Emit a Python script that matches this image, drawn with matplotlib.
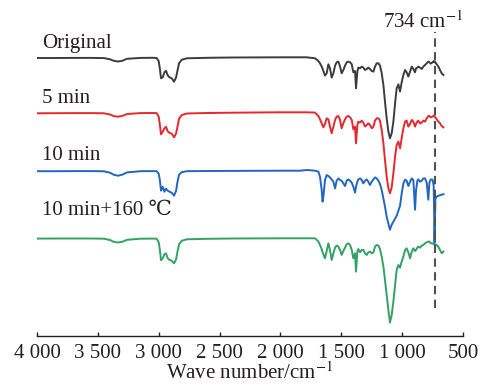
import matplotlib
matplotlib.use("Agg")
import matplotlib.pyplot as plt

# ---- data: FTIR spectra ---------------------------------------------------
# shared wavenumber grid (cm-1), high to low
wavenumber = [
    4000, 3850, 3700, 3550, 3450, 3400, 3370, 3335, 3300, 3260, 3150, 3050,
    3017, 3000, 2990, 2981, 2967, 2953, 2940, 2926, 2912, 2893, 2874, 2857,
    2847, 2833, 2811, 2770, 2600, 2400, 2200, 2000, 1900,
    1839, 1784, 1716, 1688, 1675, 1661, 1654, 1647, 1634, 1620, 1606, 1593,
    1579, 1565, 1551, 1538, 1524, 1510, 1497, 1483, 1469, 1456, 1442, 1428,
    1414, 1401, 1387, 1379, 1368, 1360, 1346, 1332, 1319, 1305, 1291, 1278,
    1264, 1250, 1236, 1223, 1209, 1195, 1182, 1168, 1154, 1141, 1127, 1113,
    1100, 1086, 1072, 1058, 1045, 1031, 1017, 1004, 990, 976, 963, 949,
    935, 921, 908, 894, 886, 875, 867, 853, 839, 826, 812, 798,
    785, 776, 765, 750, 741, 736, 734, 732, 727, 716, 702, 689,
    675, 661,
]

t_original = [
    99.3, 99.3, 99.4, 99.4, 99.2, 98.0, 96.5, 95.8, 96.5, 98.5, 99.4, 99.5,
    99.3, 96.0, 88.0, 79.0, 80.0, 85.0, 86.5, 82.0, 80.0, 79.0, 75.6, 80.0,
    86.0, 94.0, 97.5, 99.0, 99.5, 99.8, 99.9, 100.0, 100.0,
    100.0, 100.0, 99.0, 96.3, 94.0, 90.7, 88.5, 86.3, 81.7, 84.0, 93.0, 89.0,
    79.7, 84.0, 91.7, 95.0, 95.7, 90.7, 84.0, 87.3, 91.7, 95.0, 95.7, 95.0,
    93.0, 85.0, 86.3, 69.0, 85.7, 89.7, 89.0, 90.7, 89.7, 87.3, 88.3, 89.7,
    88.3, 86.3, 85.7, 90.7, 94.0, 94.0, 91.7, 84.0, 72.3, 55.7, 39.0, 25.7,
    19.0, 24.0, 35.7, 54.0, 69.0, 73.0, 65.7, 75.0, 82.3, 87.3, 85.0, 80.7,
    85.7, 90.7, 88.3, 85.0, 89.0, 89.7, 90.7, 89.7, 88.3, 90.7, 92.3, 94.0,
    95.7, 95.0, 93.7, 95.0, 96.3, 95.7, 95.5, 95.0, 95.0, 93.0, 90.7, 87.3,
    84.0, 82.3,
]

t_5min = [
    99.0, 99.1, 99.2, 99.2, 99.0, 97.8, 96.2, 95.6, 96.3, 98.3, 99.2, 99.3,
    99.2, 95.5, 87.0, 78.0, 80.5, 84.0, 85.5, 81.0, 79.5, 78.5, 75.0, 79.0,
    85.0, 93.5, 97.2, 98.8, 99.3, 99.6, 99.8, 100.0, 100.0,
    100.0, 100.0, 99.7, 96.3, 93.0, 89.0, 87.0, 85.0, 88.3, 94.0, 93.0, 85.7,
    79.0, 85.7, 92.3, 95.7, 96.3, 92.3, 84.0, 89.0, 93.0, 95.7, 96.3, 95.0,
    92.3, 83.0, 85.7, 69.0, 87.3, 90.7, 89.7, 91.7, 89.7, 85.7, 87.3, 89.0,
    87.3, 84.0, 85.7, 91.7, 94.0, 94.0, 91.7, 82.3, 69.0, 52.3, 35.7, 24.0,
    19.0, 25.0, 39.0, 55.7, 67.3, 70.7, 64.0, 74.0, 84.0, 90.7, 91.7, 85.7,
    88.3, 92.3, 90.7, 85.7, 88.3, 90.7, 91.7, 89.0, 89.7, 91.7, 90.7, 94.0,
    96.3, 96.3, 95.0, 95.7, 96.7, 96.0, 95.7, 95.3, 95.0, 93.0, 90.7, 89.0,
    86.3, 85.0,
]

t_10min = [
    99.5, 99.5, 99.6, 99.6, 99.4, 98.0, 96.0, 95.0, 96.0, 98.3, 99.5, 99.6,
    99.5, 97.0, 90.0, 80.0, 84.0, 79.0, 82.0, 80.0, 79.0, 78.0, 75.0, 80.0,
    88.0, 96.0, 98.5, 99.5, 99.7, 99.8, 99.9, 100.0, 100.0,
    100.0, 100.7, 100.0, 99.0, 94.0, 80.7, 69.0, 74.0, 90.7, 95.7, 94.7, 93.3,
    91.3, 89.0, 82.3, 90.0, 92.3, 90.7, 90.0, 87.3, 84.7, 90.0, 91.3, 90.0,
    88.0, 84.0, 78.0, 84.0, 89.0, 91.3, 92.3, 90.7, 87.3, 90.0, 91.3, 89.0,
    85.7, 89.0, 91.3, 93.3, 92.3, 90.0, 86.7, 80.7, 72.3, 64.0, 54.0, 47.0,
    41.0, 46.0, 49.0, 52.0, 55.0, 60.0, 65.0, 77.0, 87.0, 91.0, 90.0, 84.7,
    89.0, 92.3, 90.7, 61.0, 80.0, 90.0, 91.3, 89.0, 90.0, 92.3, 92.3, 88.0,
    71.0, 88.0, 91.3, 91.0, 85.0, 50.0, 28.0, 40.0, 72.0, 74.0, 75.0, 75.5,
    76.0, 76.5,
]

t_10min_160 = [
    99.7, 99.8, 99.8, 99.8, 99.6, 98.3, 96.5, 95.8, 96.5, 98.5, 99.6, 99.7,
    99.6, 96.0, 88.0, 78.0, 80.0, 84.0, 85.0, 80.0, 78.5, 77.5, 75.0, 79.0,
    86.0, 94.0, 97.5, 99.0, 99.5, 99.8, 99.9, 100.0, 100.0,
    100.0, 100.0, 100.0, 96.7, 93.3, 89.3, 86.0, 84.0, 80.0, 87.3, 95.0, 88.3,
    78.3, 85.0, 90.7, 92.7, 91.7, 88.3, 83.3, 87.3, 90.7, 94.0, 95.0, 93.3,
    88.3, 80.0, 85.0, 66.7, 86.7, 89.3, 86.0, 88.3, 88.3, 85.0, 83.3, 86.0,
    86.7, 85.0, 86.0, 91.7, 93.3, 92.7, 89.3, 81.7, 71.7, 58.3, 43.3, 28.3,
    15.7, 23.3, 36.7, 53.3, 68.3, 73.3, 70.7, 76.7, 81.7, 88.3, 90.0, 86.0,
    80.0, 86.7, 90.0, 87.3, 88.3, 90.7, 91.7, 90.7, 92.7, 93.3, 95.0, 96.0,
    96.7, 96.7, 95.0, 95.0, 94.0, 94.0, 94.0, 94.0, 93.7, 93.3, 91.3, 88.3,
    85.0, 86.7,
]

series_labels = ["Original", "5 min", "10 min", "10 min+160 \u2103"]
marker_wn = 734
tick_values = [4000, 3500, 3000, 2500, 2000, 1500, 1000, 500]
tick_labels = ["4 000", "3 500", "3 000", "2 500", "2 000", "1 500", "1 000", "500"]

# ---- style ----------------------------------------------------------------
plt.rcParams["font.family"] = ["Liberation Serif", "DejaVu Serif", "Noto Sans CJK SC"]
plt.rcParams["mathtext.fontset"] = "stix"
text_color = "#231f20"

colors = ["#3c3c3c", "#e8262d", "#2166c0", "#33a163"]
offsets = [178.7, 123.7, 65.3, -2.3]   # vertical stacking of the traces
label_y = [293, 238, 181, 126]

fig = plt.figure(figsize=(4.85, 3.85), dpi=100)
ax = fig.add_axes([37 / 485, 49 / 385, 426 / 485, 331 / 385])

spectra = [t_original, t_5min, t_10min, t_10min_160]
for t, off, c in zip(spectra, offsets, colors):
    ax.plot(wavenumber, [v + off for v in t], color=c, lw=1.4,
            solid_joinstyle="round")

ax.plot([marker_wn, marker_wn], [28, 304], color="#505050", lw=1.5,
        linestyle=(0, (4, 2.6)))

for lab, y in zip(series_labels, label_y):
    ax.text(3955, y, lab, fontsize=15, color=text_color, ha="left", va="center")
ax.text(824, 314, "734 cm$^{-1}$", fontsize=15, color=text_color,
        ha="center", va="center")

ax.set_xlim(4000, 500)
ax.set_ylim(0, 331)
ax.set_xticks(tick_values)
ax.set_xticklabels(tick_labels)
ax.set_yticks([])
for side in ("left", "right", "top"):
    ax.spines[side].set_visible(False)
ax.spines["bottom"].set_linewidth(1.0)
ax.spines["bottom"].set_color(text_color)
ax.tick_params(axis="x", direction="in", length=3, width=1.0, pad=6,
               labelsize=15, colors=text_color)
ax.set_xlabel("Wave number/cm$^{-1}$", fontsize=15, color=text_color, labelpad=-1)

fig.savefig("out.png", dpi=100)
